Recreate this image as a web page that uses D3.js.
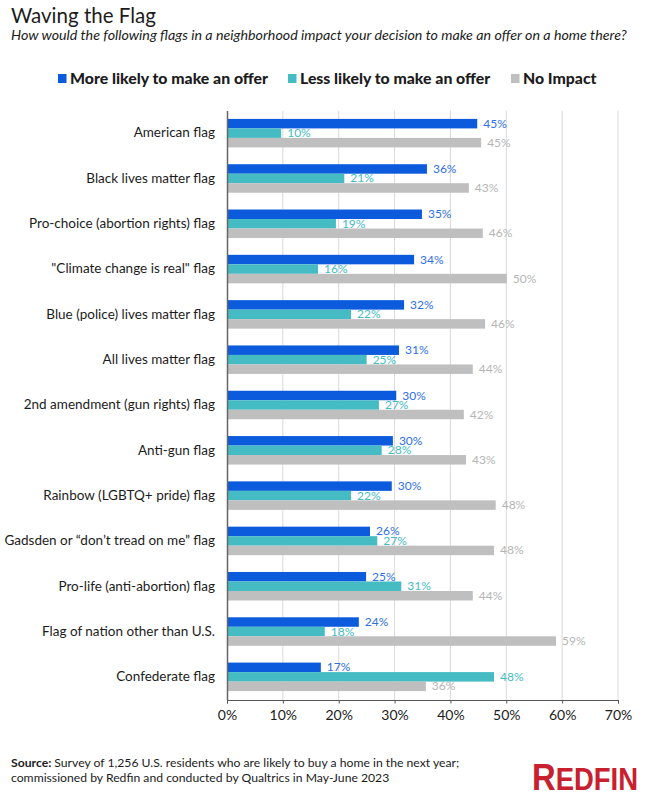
<!doctype html>
<html>
<head>
	<meta charset="utf-8">
	<title>Waving the Flag</title>
	<script src="https://cdnjs.cloudflare.com/ajax/libs/d3/7.8.5/d3.min.js"></script>
	<style>
		body { margin: 0; background: #fff; }
		text { font-family: Lato, sans-serif; fill: #1c1c1c; }
	</style>
</head>
<body>
	<script>
		var flags = ["American flag", "Black lives matter flag", "Pro-choice (abortion rights) flag",
			"\"Climate change is real\" flag", "Blue (police) lives matter flag", "All lives matter flag",
			"2nd amendment (gun rights) flag", "Anti-gun flag", "Rainbow (LGBTQ+ pride) flag",
			"Gadsden or “don’t tread on me” flag", "Pro-life (anti-abortion) flag",
			"Flag of nation other than U.S.", "Confederate flag"];

		// bar lengths, labels as printed
		var moreLikely = [44.8, 35.8, 34.9, 33.5, 31.7, 30.8, 30.3, 29.7, 29.5, 25.6, 24.9, 23.6, 16.8];
		var lessLikely = [9.7, 21, 19.5, 16.3, 22.2, 25, 27.2, 27.7, 22.2, 26.9, 31.2, 17.5, 47.8];
		var noImpact = [45.5, 43.3, 45.8, 50.1, 46.2, 44, 42.4, 42.8, 48.1, 47.8, 44, 58.9, 35.6];
		var moreLabels = [45, 36, 35, 34, 32, 31, 30, 30, 30, 26, 25, 24, 17];
		var lessLabels = [10, 21, 19, 16, 22, 25, 27, 28, 22, 27, 31, 18, 48];
		var noLabels = [45, 43, 46, 50, 46, 44, 42, 43, 48, 48, 44, 59, 36];
		var xTicks = [0, 10, 20, 30, 40, 50, 60, 70];

		var series = [
			{ name: "More likely to make an offer", values: moreLikely, labels: moreLabels, color: "#0c5bdc", text: "#2f6fe6" },
			{ name: "Less likely to make an offer", values: lessLikely, labels: lessLabels, color: "#45bcc4", text: "#45bcc4" },
			{ name: "No Impact", values: noImpact, labels: noLabels, color: "#bfbfbf", text: "#b5b5b5" }
		];

		var svg = d3.select("body").append("svg")
			.attr("width", 649)
			.attr("height", 800);

		// title block
		svg.append("text").attr("x", 11).attr("y", 23)
			.style("font-size", "20.5px").text("Waving the Flag");
		svg.append("text").attr("x", 11).attr("y", 39.5)
			.style("font-size", "14.25px").style("font-style", "italic")
			.text("How would the following flags in a neighborhood impact your decision to make an offer on a home there?");

		// legend
		var legendX = [58, 288, 511];
		var legend = svg.selectAll(".legend").data(series).enter().append("g")
			.attr("transform", function (d, i) { return "translate(" + legendX[i] + ",74)"; });
		legend.append("rect").attr("width", 8.5).attr("height", 9).attr("fill", function (d) { return d.color; });
		legend.append("text").attr("x", 12).attr("y", 9.5)
			.style("font-size", "15.8px").style("font-weight", 900)
			.text(function (d) { return d.name; });

		var x = d3.scaleLinear().domain([0, 70]).range([227, 618]);
		var y = d3.scaleBand().domain(flags).range([110.5, 699.5]);
		var bar = d3.scaleBand().domain([0, 1, 2]).range([0, 28.5]);

		// gridlines
		svg.selectAll(".grid").data(xTicks.slice(1)).enter().append("line")
			.attr("x1", function (d) { return x(d); })
			.attr("x2", function (d) { return x(d); })
			.attr("y1", 110.5).attr("y2", 700)
			.attr("stroke", "#d9d9d9");

		// bars and value labels
		series.forEach(function (s, k) {
			var top = function (f) { return y(f) + (y.bandwidth() - 28.5) / 2 + bar(k); };
			svg.selectAll(".bar" + k).data(flags).enter().append("rect")
				.attr("x", x(0))
				.attr("y", top)
				.attr("width", function (f, i) { return x(s.values[i]) - x(0); })
				.attr("height", bar.bandwidth())
				.attr("fill", s.color);
			svg.selectAll(".val" + k).data(flags).enter().append("text")
				.attr("x", function (f, i) { return x(s.values[i]) + 6; })
				.attr("y", function (f) { return top(f) + bar.bandwidth() / 2 + 4; })
				.style("font-size", "12px")
				.style("fill", s.text)
				.text(function (f, i) { return s.labels[i] + "%"; });
		});

		// axes
		var xAxis = d3.axisBottom(x).tickValues(xTicks).tickFormat(function (d) { return d + "%"; })
			.tickSizeOuter(0).tickSize(3.5).tickPadding(6.5);
		var gx = svg.append("g").attr("transform", "translate(0,700)").call(xAxis);
		gx.selectAll("text").style("font-size", "14px");
		gx.selectAll("line, path").attr("stroke", "#555");

		var yAxis = d3.axisLeft(y).tickSize(0).tickPadding(12);
		var gy = svg.append("g").attr("transform", "translate(227,0)").call(yAxis);
		gy.selectAll("text").style("font-size", "13.5px");
		gy.select("path").attr("stroke", "#666").attr("stroke-width", 1.5);

		// source note
		var note = svg.append("text").attr("x", 11).attr("y", 767).style("font-size", "12.2px");
		note.append("tspan").style("font-weight", 700).text("Source: ");
		note.append("tspan").text("Survey of 1,256 U.S. residents who are likely to buy a home in the next year;");
		svg.append("text").attr("x", 11).attr("y", 782).style("font-size", "12.2px")
			.text("commissioned by Redfin and conducted by Qualtrics in May-June 2023");

		// logo
		var logo = svg.append("text").attr("x", 532).attr("y", 790)
			.attr("textLength", 106).attr("lengthAdjust", "spacingAndGlyphs")
			.style("font-family", "'Liberation Sans Narrow', sans-serif").style("font-weight", 700)
			.style("fill", "#c8202f");
		logo.append("tspan").style("font-size", "37px").text("R");
		logo.append("tspan").style("font-size", "31px").text("EDFIN");
	</script>
</body>
</html>
